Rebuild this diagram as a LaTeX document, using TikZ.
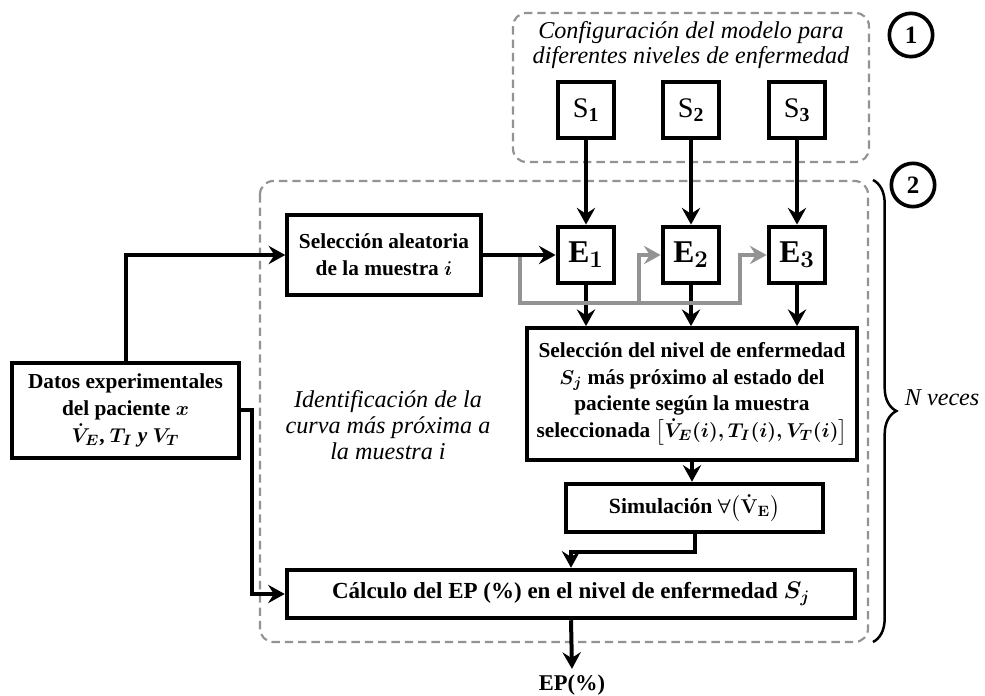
\documentclass[tikz,border=0pt]{standalone}
\usepackage{amsmath}
\usepackage{amssymb}
\usepackage{fontspec}
\setmainfont{Liberation Serif}
\usetikzlibrary{arrows.meta, positioning, calc, decorations.pathreplacing}

\begin{document}
\begin{tikzpicture}[
        x=0.6pt, y=-0.6pt,
        every node/.style={font=\fontsize{13}{16}\selectfont},
        box/.style={rectangle, draw=black, line width=2.5pt, align=center, inner sep=2pt, font=\fontsize{12.8}{16}\selectfont\bfseries\boldmath},
        sbox/.style={box, minimum width=34pt, minimum height=34pt, inner sep=0pt, font=\fontsize{17}{19}\selectfont},
        ebox/.style={sbox, font=\fontsize{19}{21}\selectfont\bfseries\boldmath},
        grupo/.style={draw=gray!85, line width=1.3pt, dash pattern=on 5pt off 3pt, rounded corners=8pt},
        flecha/.style={line width=2.4pt, -{Stealth[length=10pt, width=11pt, inset=3.5pt]}},
        gris/.style={flecha, draw=gray!85},
        num/.style={circle, draw=black, line width=2.2pt, minimum size=26pt, inner sep=0pt, font=\fontsize{15}{17}\selectfont\bfseries},
        nota/.style={align=center, font=\fontsize{14.5}{15.5}\selectfont\itshape}
    ]
        \useasboundingbox (0,0) rectangle (985,696);

        % Dashed groups
        \draw[grupo] (513,13) rectangle (869,162);
        \draw[grupo] (260,181) rectangle (868,642);

        % Group labels
        \node[nota] (config) at (691,45) {Configuración del modelo para\\diferentes niveles de enfermedad};
        \node[nota] (ident) at (388,425) {Identificación de la\\curva más próxima a\\la muestra i};
        \node[num] (n1) at (911,35) {1};
        \node[num] (n2) at (913,185) {2};

        % Main blocks
        \node[box, minimum width=136pt, minimum height=57pt] (datos) at (125.5,410.5) {Datos experimentales\\del paciente $x$\\$\dot{V}_{E}$, $T_{I}$ \textit{y} $V_{T}$};
        \node[box, minimum width=116pt, minimum height=48pt] (alea) at (384,255) {Selección aleatoria\\de la muestra $i$};
        \node[box, minimum width=198pt, minimum height=79pt] (selniv) at (692,394) {Selección del nivel de enfermedad\\$S_j$ más próximo al estado del\\paciente según la muestra\\seleccionada $\bigl[\dot{V}_{E}(i), T_{I}(i), V_{T}(i)\bigr]$};
        \node[box, minimum width=154pt, minimum height=29pt, font=\fontsize{13}{16}\selectfont\bfseries\boldmath] (sim) at (694.5,508) {Simulación $\forall\bigl(\dot{\mathbf{V}}_{\mathbf{E}}\bigr)$};
        \node[box, minimum width=341pt, minimum height=29pt, font=\fontsize{13.8}{16}\selectfont\bfseries\boldmath] (calc) at (571,594) {Cálculo del EP (\%) en el nivel de enfermedad $S_j$};
        \node[font=\fontsize{13.5}{16}\selectfont\bfseries] (ep) at (572,685) {EP(\%)};

        % Gray shortcuts between the E blocks
        \coordinate (g0) at (520,255);
        \coordinate (g1) at (639,303);
        \coordinate (g2) at (740,303);

        % Disease levels and their E blocks
        \foreach \k/\xs in {1/586, 2/691, 3/797} {
            \node[sbox] (s\k) at (\xs,110) {S$_{\mathbf{\k}}$};
            \node[ebox] (e\k) at (\xs,255) {E$_{\k}$};
            \draw[flecha] (s\k) -- (e\k);
            \draw[flecha] (e\k.south) -- (e\k.south |- selniv.north);
        }
        \draw[gris] (g0) |- (g1) -- (g1 |- e2.west) -- (e2.west);
        \draw[gris] (g1) -| (g2 |- e3.west) -- (e3.west);

        % Connections
        \draw[flecha] (datos.north) |- (alea.west);
        \draw[flecha] (datos.east) -- ++(11,0) |- (calc.west);
        \draw[flecha] (alea.east) -- (e1.west);
        \draw[flecha] (selniv.south) -- (selniv.south |- sim.north);
        \draw[flecha] (sim.south) -- ++(0,18) -| (calc.north);
        \draw[flecha] (calc.south) -- (ep.north);

        % Repetition brace
        \draw[line width=1.5pt, decorate, decoration={brace, amplitude=14pt}] (873,180) -- (873,642);
        \node[nota, anchor=west] (veces) at (899,398) {N veces};
    \end{tikzpicture}
\end{document}
